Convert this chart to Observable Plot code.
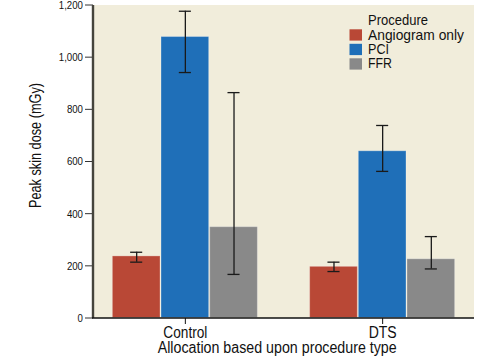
<!DOCTYPE html>
<html>
<head>
<meta charset="utf-8">
<script src="https://cdn.jsdelivr.net/npm/d3@7"></script>
<script src="https://cdn.jsdelivr.net/npm/@observablehq/plot@0.6"></script>
<style>
  html, body { margin: 0; padding: 0; background: #ffffff; }
  #chart { position: relative; width: 502px; height: 357px; }
</style>
</head>
<body>
<div id="chart"></div>
<script>
// ---- data ----
const allocations = ["Control", "DTS"];
const procedures = ["Angiogram only", "PCI", "FFR"];
const colors = ["#b94836", "#1f6fb8", "#898989"];
const controlMean = [240, 1081, 352];
const controlLow  = [216, 943, 169];
const controlHigh = [254, 1178, 866];
const dtsMean = [200, 643, 229];
const dtsLow  = [180, 564, 190];
const dtsHigh = [216, 740, 314];
const yTicks = [0, 200, 400, 600, 800, 1000, 1200];

(function () {
const series = {
  Control: {mean: controlMean, low: controlLow, high: controlHigh},
  DTS: {mean: dtsMean, low: dtsLow, high: dtsHigh}
};
const data = allocations.flatMap(a => procedures.map((p, i) => ({
  alloc: a, proc: p, value: series[a].mean[i], lo: series[a].low[i], hi: series[a].high[i]
})));

const font = '"Liberation Sans", Arial, sans-serif';

const plot = Plot.plot({
  width: 502,
  height: 357,
  marginLeft: 93,
  marginRight: 28,
  marginTop: 5,
  marginBottom: 39,
  style: {fontFamily: font, background: "transparent", color: "#111"},
  fx: {domain: allocations, paddingInner: 0.26, paddingOuter: 0.0955, round: false, label: null},
  x: {domain: procedures, padding: 0, round: false, axis: null},
  y: {domain: [0, 1200], axis: null},
  color: {domain: procedures, range: colors},
  marks: [
    Plot.axisFx({anchor: "bottom", tickSize: 6, tickPadding: 2, fontSize: 16, label: null, stroke: "#111"}),
    Plot.barY(data, {fx: "alloc", x: "proc", y: "value", fill: "proc",
      stroke: "#ffffff", strokeOpacity: 0.28, strokeWidth: 1, inset: 0.5}),
    Plot.ruleX(data, {fx: "alloc", x: "proc", y1: "lo", y2: "hi", stroke: "#1a1a1a", strokeWidth: 1.3}),
    Plot.tickY(data, {fx: "alloc", x: "proc", y: "hi", stroke: "#1a1a1a", strokeWidth: 1.3, insetLeft: 18.3, insetRight: 18.3}),
    Plot.tickY(data, {fx: "alloc", x: "proc", y: "lo", stroke: "#1a1a1a", strokeWidth: 1.3, insetLeft: 18.3, insetRight: 18.3})
  ]
});

document.getElementById("chart").appendChild(plot);

const svg = d3.select(plot);
const fxR = plot.scale("fx").range;
const yS = plot.scale("y");
const pL = Math.min(...fxR), pR = Math.max(...fxR);
const pT = Math.min(...yS.range), pB = Math.max(...yS.range);

function squeeze(sel, width) {
  sel.attr("textLength", width).attr("lengthAdjust", "spacingAndGlyphs");
}
function squeezeBy(sel, f) {
  sel.each(function () {
    const w = this.getComputedTextLength();
    this.setAttribute("textLength", w * f);
    this.setAttribute("lengthAdjust", "spacingAndGlyphs");
  });
}

// background panel
svg.insert("rect", ":first-child")
  .attr("x", pL).attr("y", pT)
  .attr("width", pR - pL).attr("height", pB - pT)
  .attr("fill", "#f1eddb");

// y axis from the library's y scale
const ya = svg.append("g");
yTicks.forEach(t => {
  const y = yS.apply(t);
  ya.append("line").attr("x1", pL - 8).attr("x2", pL).attr("y1", y).attr("y2", y)
    .attr("stroke", "#333").attr("stroke-width", 1);
  const tx = ya.append("text").attr("x", pL - 10).attr("y", y).attr("dy", "0.34em")
    .attr("text-anchor", "end").attr("font-size", 11.5).attr("fill", "#111")
    .text(d3.format(",")(t));
  squeezeBy(tx, 0.84);
});
svg.append("line")
  .attr("x1", pL).attr("x2", pL).attr("y1", pT).attr("y2", pB)
  .attr("stroke", "#45443c").attr("stroke-width", 2.4);
svg.append("line")
  .attr("x1", pL - 1).attr("x2", pR).attr("y1", pB).attr("y2", pB)
  .attr("stroke", "#111").attr("stroke-width", 1.4);

// condense the fx tick labels
const fxWidths = {Control: 44, DTS: 28};
svg.selectAll("text").filter(function () { return this.textContent in fxWidths; })
  .each(function () { squeeze(d3.select(this), fxWidths[this.textContent]); });

// Axis titles
const yl = svg.append("text")
  .attr("transform", `translate(41,145.5) rotate(-90)`)
  .attr("text-anchor", "middle")
  .attr("font-size", 16)
  .attr("fill", "#111")
  .text("Peak skin dose (mGy)");
squeeze(yl, 125);
const xl = svg.append("text")
  .attr("x", 277.2).attr("y", 353)
  .attr("text-anchor", "middle")
  .attr("font-size", 16)
  .attr("fill", "#111")
  .text("Allocation based upon procedure type");
squeeze(xl, 239);

// Legend
const legendWidths = [96, 21, 24];
const lg = svg.append("g").attr("transform", "translate(349.5,0)");
squeeze(lg.append("text").attr("x", 18.5).attr("y", 25).attr("font-size", 15)
  .attr("text-anchor", "start").attr("fill", "#111").text("Procedure"), 60);
procedures.forEach((p, i) => {
  lg.append("rect").attr("x", 0).attr("y", 29.3 + i * 14.5).attr("width", 12.5).attr("height", 11.3).attr("fill", colors[i]);
  squeeze(lg.append("text").attr("x", 18.5).attr("y", 39.8 + i * 14.3).attr("font-size", 15)
    .attr("text-anchor", "start").attr("fill", "#111").text(p), legendWidths[i]);
});
})();
</script>
</body>
</html>
